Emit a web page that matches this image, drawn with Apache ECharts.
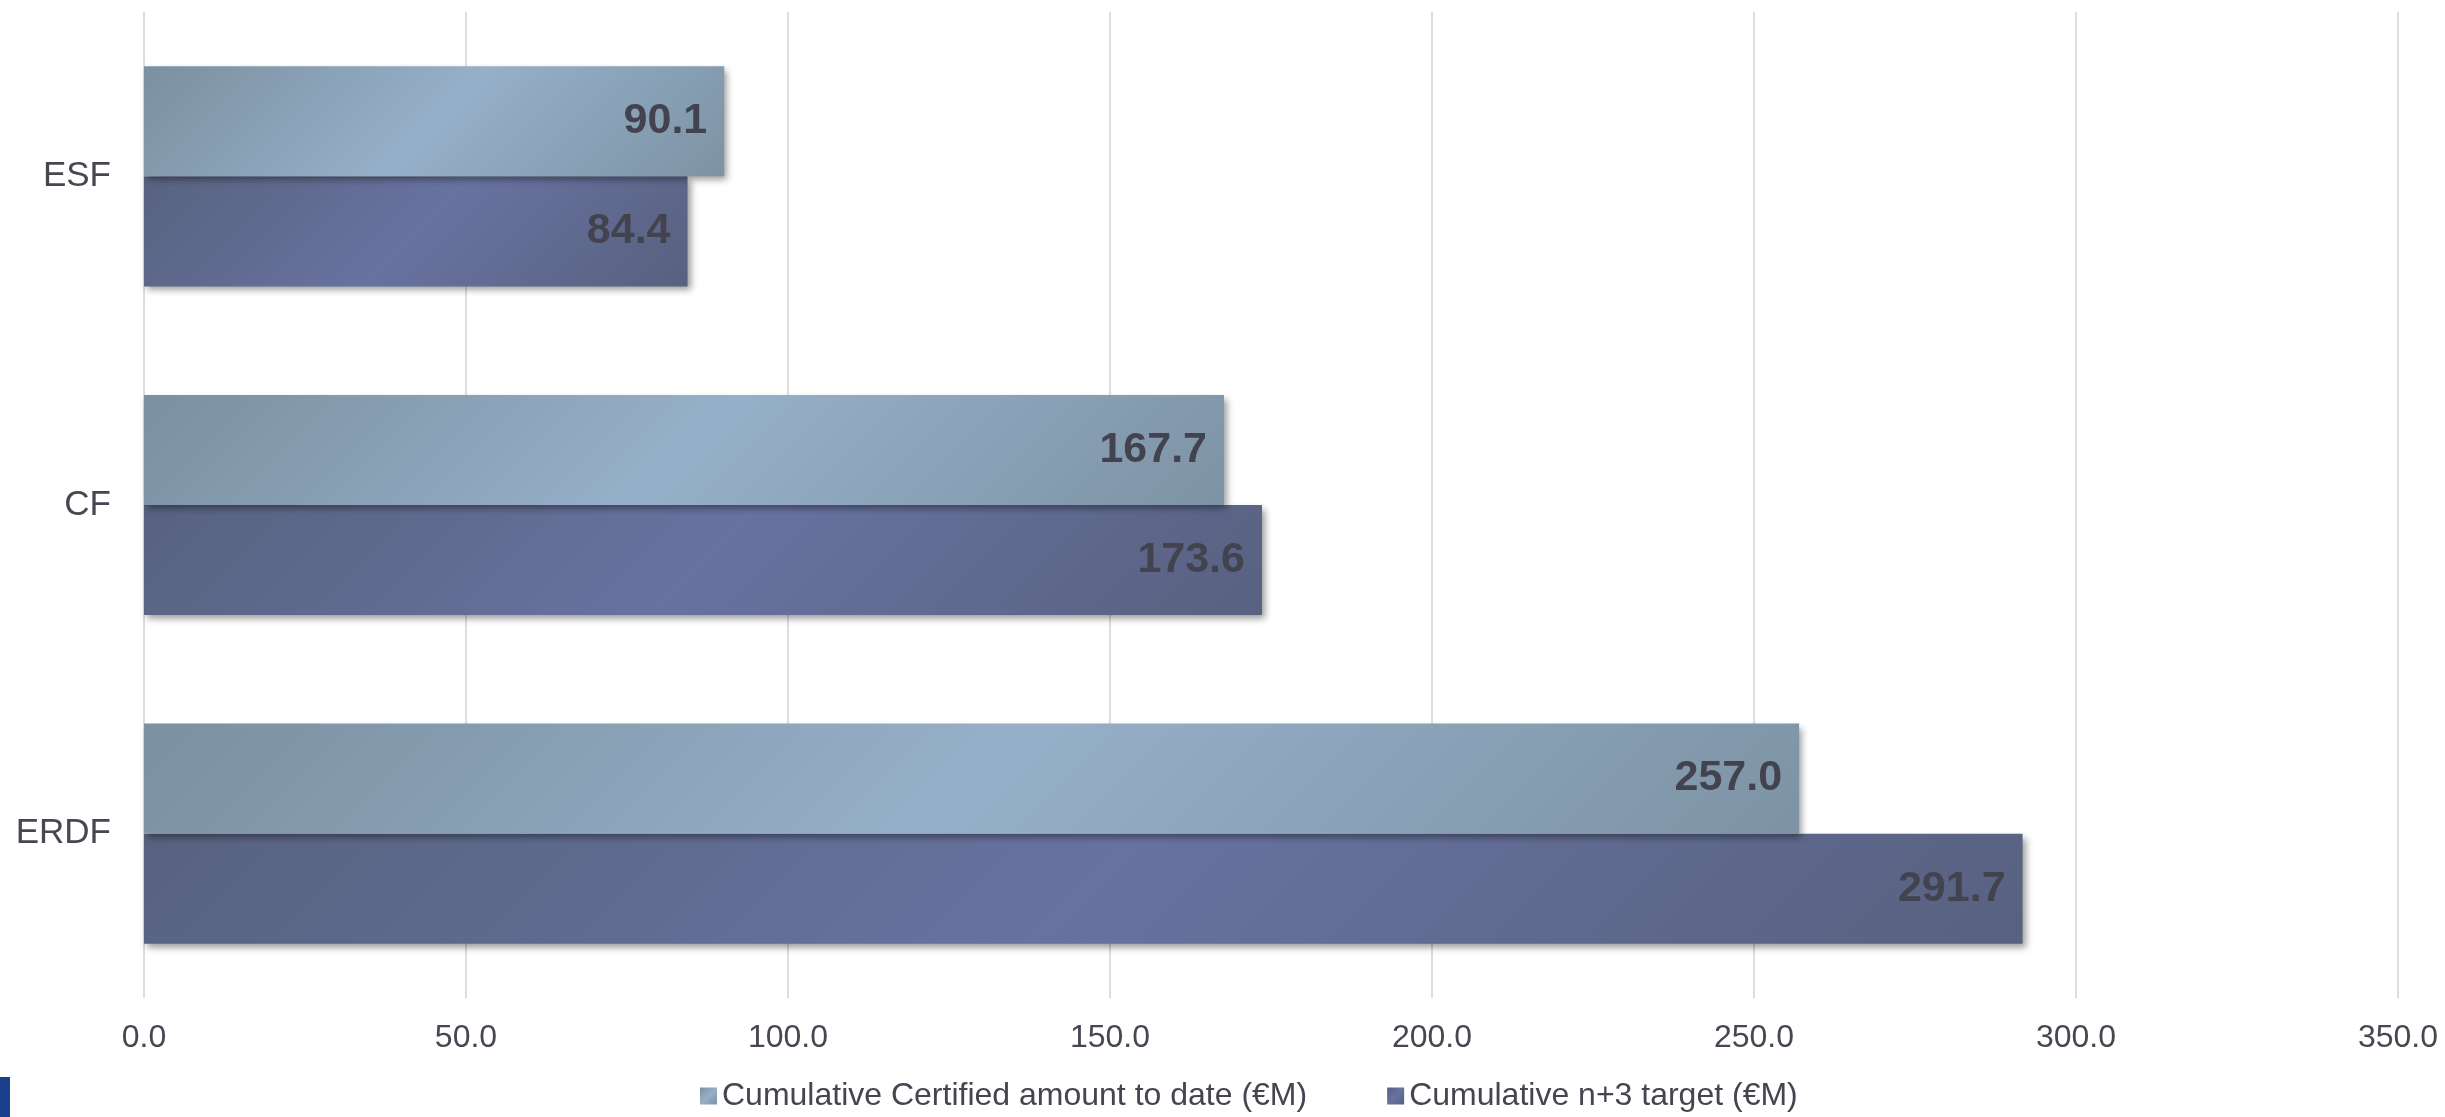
<!DOCTYPE html>
<html>
<head>
<meta charset="utf-8">
<script src="https://cdn.jsdelivr.net/npm/echarts@6/dist/echarts.min.js"></script>
<style>
html,body{margin:0;padding:0;background:#fff;}
#chart{width:2445px;height:1117px;}
</style>
</head>
<body>
<div id="chart"></div>
<script>
var categories = ['ESF', 'CF', 'ERDF'];
var certified = [90.1, 167.7, 257.0];
var target = [84.4, 173.6, 291.7];
var seriesNames = ['Cumulative Certified amount to date (€M)', 'Cumulative n+3 target (€M)'];
var xTicks = { min: 0, max: 350, interval: 50 };

var chart = echarts.init(document.getElementById('chart'));

var lightStops = [
  { offset: 0, color: '#7b90a0' },
  { offset: 0.5, color: '#96b0c9' },
  { offset: 1, color: '#7d93a5' }
];
var darkStops = [
  { offset: 0, color: '#58627f' },
  { offset: 0.5, color: '#6872a0' },
  { offset: 1, color: '#58617f' }
];

var labelStyle = {
  show: true,
  position: 'insideRight',
  distance: 17,
  fontFamily: 'Liberation Sans, Arial, sans-serif',
  fontWeight: 'bold',
  fontSize: 43,
  color: '#43434f',
  formatter: function (p) { return Number(p.value).toFixed(1); }
};

var shadow = {
  shadowColor: 'rgba(0,0,0,0.4)',
  shadowBlur: 7,
  shadowOffsetX: 3,
  shadowOffsetY: 4
};

chart.setOption({
  backgroundColor: '#ffffff',
  animation: false,
  grid: { left: 144, right: 47, top: 12, bottom: 119, containLabel: false },
  legend: {
    bottom: 0,
    left: 695,
    itemWidth: 17,
    itemHeight: 17,
    itemGap: 80,
    icon: 'rect',
    textStyle: { fontFamily: 'Liberation Sans, Arial, sans-serif', fontSize: 32, color: '#45454f' },
    data: [
      { name: seriesNames[0], itemStyle: { color: new echarts.graphic.LinearGradient(0, 0, 1, 1, lightStops) } },
      { name: seriesNames[1], itemStyle: { color: new echarts.graphic.LinearGradient(0, 0, 1, 1, darkStops) } }
    ]
  },
  xAxis: {
    type: 'value',
    min: xTicks.min,
    max: xTicks.max,
    interval: xTicks.interval,
    axisLine: { show: false },
    axisTick: { show: false },
    splitLine: { show: true, lineStyle: { color: '#dcdce2', width: 2 } },
    axisLabel: {
      margin: 24,
      fontFamily: 'Liberation Sans, Arial, sans-serif',
      fontSize: 32,
      color: '#474752',
      formatter: function (v) { return v.toFixed(1); }
    }
  },
  yAxis: {
    type: 'category',
    inverse: true,
    data: categories,
    axisLine: { show: false },
    axisTick: { show: false },
    splitLine: { show: false },
    axisLabel: {
      margin: 33,
      fontFamily: 'Liberation Sans, Arial, sans-serif',
      fontSize: 35,
      color: '#474752'
    }
  },
  series: [
    {
      name: seriesNames[0],
      type: 'bar',
      data: certified,
      barGap: '0%',
      barCategoryGap: '33%',
      itemStyle: Object.assign({ color: new echarts.graphic.LinearGradient(0, 0, 1, 1, lightStops) }, shadow),
      label: labelStyle,
      z: 3
    },
    {
      name: seriesNames[1],
      type: 'bar',
      data: target,
      barGap: '0%',
      barCategoryGap: '33%',
      itemStyle: Object.assign({ color: new echarts.graphic.LinearGradient(0, 0, 1, 1, darkStops) }, shadow),
      label: labelStyle,
      z: 2
    }
  ],
  graphic: [
    { type: 'rect', left: 0, top: 1077, shape: { width: 10, height: 40 }, style: { fill: '#1b3f8f' }, silent: true }
  ]
});

// Re-colour each bar with a 45-degree gradient sized to the bar's own rendered layout
try {
  var model = chart.getModel();
  function diag(si, values, stops) {
    var data = model.getSeriesByIndex(si).getData();
    return values.map(function (v, i) {
      var l = data.getItemLayout(i);
      var w = Math.abs(l.width), h = Math.abs(l.height);
      return {
        value: v,
        itemStyle: { color: new echarts.graphic.LinearGradient(0, 0, (w + h) / (2 * w), (w + h) / (2 * h), stops) }
      };
    });
  }
  var d0 = diag(0, certified, lightStops);
  var d1 = diag(1, target, darkStops);
  chart.setOption({ series: [{ data: d0 }, { data: d1 }] });
} catch (e) { console.log(e); }
</script>
</body>
</html>
